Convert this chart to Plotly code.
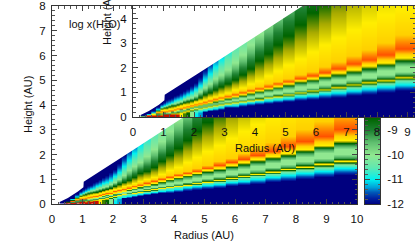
import plotly.graph_objects as go

# column edges in radius (AU)
radius_edges = [0.25,0.45,0.6,0.75,0.9,1.0,1.08,1.16,1.25,1.34,1.43,1.53,1.64,1.75,1.87,2.0,2.14,2.29,2.45,2.62,2.8,3.0,3.24,3.48,3.74,4.0,4.3,4.6,4.92,5.3,5.7,6.1,6.5,7.0,7.5,8.0,8.6,9.25,10.0]
# midplane log abundance per column
floor_vals = [-6.8,-6.3,-6.3,-6.3,-6.3,-6.3,-6.3,-6.3,-6.3,-6.3,-6.3,-7.5,-8.3,-8.5,-10,-11,-11.3]+[-12]*21
# peak log abundance per column
peak_vals = [-6.85]*21+[-6.8]*8+[-6.75]*9
# height/radius (percent) of each abundance contour, per column
c_a = [4,4.5,5,5,5,5,5,5,5,5,5,5,5,5.5,5.5,6,8.5,9.5,10,10.5,11,12,12,12,12,12,12,12,12,12,12,12,12,12,12,12,12,12]
c_b = [4.5,5,5.5,5.5,5.5,5.5,5.5,5.5,5.5,5.5,5.5,5.5,5.5,6,6,6.5,11,12,12.5,13,13.5,14.5,14.5,15,15,15,15,15,15,15,15,15,15,15,15,15,15,15]
c_c = [5,5.5,6,6,6,6,6,6,6.5,6.5,7,8,9,10,11,12,14,15,15.5,15.5,16,16,16,16.5,16.5,16.5,16.5,16.5,16.5,16.5,16.5,16.5,16.5,16.5,16.5,16.5,16.5,16.5]
c_d = [6,7,8,8,8,8,8,8,8,8,8,12,13,14,15,16,16,16.5,16.5,17,17,17.5,17.5,17.5,17.5,17.5,17.5,17.5,17.5,18,18,18,18,18,18,18,18,18]
c_e = [7,8,9.5,12,13,13,13,13,13.5,14,14.5,15,15.5,16,16.5,17,17.5,17.5,18,18,18.5,18.8,18.8,18.8,18.8,18.8,19,19,19,19.2,19.2,19.3,19.3,19.4,19.4,19.4,19.4,19.4]
c_f = [7.5,9,10.5,13,15,14,14,14,14.5,15,15.5,16,16.5,16.5,17,17.5,18,18.5,19,19.2,19.5,19.8,20,20,20,20.2,20.2,20.4,20.4,20.6,20.6,20.7,20.8,20.9,20.9,20.9,20.9,21]
c_g = [7.8,9.5,11,14,15.5,15,15,15,15.5,16,16.5,17,17.5,17.5,18,18.5,19.2,19.8,20.4,20.7,21,21.2,21.4,21.6,21.8,21.9,22,22,22.2,22.4,22.5,22.6,22.7,22.8,22.8,22.8,22.9,23]
c_h = [8,10,12,15,17,16,16,16,16.5,17,17.5,18,18.5,19,19.5,20,20.5,21,21.5,22,22.5,23,23.3,23.6,23.9,24.1,24.3,24.4,24.5,24.6,24.6,24.6,24.6,24.6,24.6,24.6,24.7,24.8]
c_i = [8.5,11,14,17,19,18,18,18,18.5,19,19.5,20,20.5,21,21.5,22,22.5,23,23.5,24,24.5,25,25.3,25.6,25.9,26.1,26.3,26.4,26.5,26.6,26.6,26.7,26.7,26.8,26.8,26.8,26.9,27]
c_j = [9,12,16,20,22,21,21,21,21.5,22,22.5,23,23.5,24,24,24.5,25,25.5,26,26.5,27,27.3,27.5,27.7,27.9,28,28.2,28.4,28.5,28.6,28.7,29,29.4,29.8,30.2,30.6,31,31.4]
c_j2 = [9.2,13,18,23,26,23,23,23,23.5,24,24.5,25,25.5,26,26,26.5,27,27.5,28,28.5,29,29.2,29.5,29.8,30,30.2,30.4,30.6,31,31.3,31.6,32.5,33.5,34.5,35.5,36.5,37.5,38.5]
c_k = [9.5,14,20,27,32,28,28,28,28,28.5,28.5,29,29,29,29,29.5,30,30,31,31,32,32.5,33,33.5,35,36,38,40,42,43,45,47,48,49,49.5,50,50,51]
c_l = [10,15,22,30,36,36,36,36,35,35,34,34,34,34,34,35,36,38,39,41,43,43,45,48,51,55,58,62,65,68,72,74,78,82,88,100,110,120]
c_m = [10.5,17,24,33,40,42,42,42,41,41,41,41,41,41,41,43,46,50,54,57,59,62,66,70,76,82,88,93,98,104,110,120,130,140,150,160,170,180]
c_n = [11,20,28,38,45,46,46,46,47,47,48,48,49,50,51,54,58,64,70,76,82,90,100,110,120,130,140,150,160,170,180,190,200,210,220,230,240,250]
c_o = [12,25,38,50,58,62,62,62,62,63,63,64,64,65,66,68,74,84,92,98,104,110,120,130,140,150,160,170,180,190,200,210,220,230,240,250,260,270]
c_top = 400
# log abundance on the contours above
lower_levels = [-12,-11,-10.4,-7.5]
upper_levels = [-9.2,-10,-10,-9.2,-7.5]
top_levels = [-7.2,-7.5,-8.5,-10,-11,-12,-12]
# disk surface
wedge_r = [0,0.2,0.52,0.85,1.03,1.04,2.66,5.87,10.5]
wedge_h = [0,0.05,0.24,0.5,0.68,0.9,2.18,4.76,8.55]
# colour bar
cb_levels = [-12,-11.75,-11.5,-11.3,-11,-10.5,-10,-9.5,-9,-8.5,-8.4]
cb_ticks = [-12,-11,-10,-9]
cb_text = ["-12","-11","-10","-9"]
x_ticks = [0,1,2,3,4,5,6,7,8,9,10]
colors = [[0,"#00007f"],[0.0417,"#0020a0"],[0.0833,"#0058b8"],[0.1167,"#00a0d8"],[0.1667,"#00f0f0"],[0.25,"#60e8b0"],[0.3333,"#90e890"],[0.4167,"#5fbf6f"],[0.5,"#1e8232"],[0.5833,"#006400"],[0.6667,"#a8aa00"],[0.75,"#ffee00"],[0.8,"#ffd000"],[0.85,"#ff7800"],[0.8833,"#ff4600"],[0.9333,"#dc1400"],[1,"#800000"]]
W, H = 415, 242

def dom_x(a, b): return [a/W, b/W]
def dom_y(top, bottom): return [(H-bottom)/H, (H-top)/H]

fig = go.Figure()

def add_columns(xa, ya):
    for i in range(len(radius_edges)-1):
        e0, e1 = radius_edges[i], radius_edges[i+1]
        r = (e0+e1)/2
        fr = [0,c_a[i],c_b[i],c_c[i],c_d[i],c_e[i],c_f[i],c_g[i],c_h[i],c_i[i],c_j[i],c_j2[i],c_k[i],c_l[i],c_m[i],c_n[i],c_o[i],c_top]
        y = [r*f/100 for f in fr]
        fl = floor_vals[i]
        vals = [fl]+[max(v, fl) for v in lower_levels]+upper_levels+[peak_vals[i]]+top_levels
        fig.add_trace(go.Heatmap(x=[e0,r,e1+0.05], y=y, z=[[v,v] for v in vals], zmin=-12, zmax=-6, colorscale=colors,
                                 showscale=False, zsmooth="best", hoverinfo="skip", xaxis=xa, yaxis=ya))
    fig.add_trace(go.Scatter(x=wedge_r+[0], y=wedge_h+[wedge_h[-1]], mode="lines", fill="toself", fillcolor="white",
                             line=dict(width=0, color="white"), hoverinfo="skip", xaxis=xa, yaxis=ya))

add_columns("x", "y")
fig.add_trace(go.Heatmap(x=[0,1], y=cb_levels, z=[[v,v] for v in cb_levels], zmin=-12, zmax=-6, colorscale=colors,
                         showscale=False, zsmooth="best", hoverinfo="skip", xaxis="x2", yaxis="y2"))
add_columns("x3", "y3")

font = dict(family="Liberation Sans, Arial, sans-serif", size=11.5, color="#111")
title_font = dict(family="Liberation Sans, Arial, sans-serif", size=11, color="#111")
ax = dict(showgrid=False, zeroline=False, showline=True, linecolor="#333", linewidth=1, mirror="ticks",
          ticks="inside", ticklen=5, tickwidth=1, tickcolor="#444", tickfont=font,
          minor=dict(ticks="inside", ticklen=2.5, tickwidth=1, tickcolor="#555", dtick=0.2))
fig.update_layout(
    width=W, height=H, margin=dict(l=0, r=0, t=0, b=0, autoexpand=False), showlegend=False,
    plot_bgcolor="white", paper_bgcolor="white",
    xaxis=dict(ax, domain=dom_x(52,357), range=[0,10], tickvals=x_ticks, ticklabelstandoff=4),
    yaxis=dict(ax, domain=dom_y(6,204), range=[0,8], dtick=1, ticklabelstandoff=3),
    xaxis2=dict(ax, domain=dom_x(365,380), range=[0,1], showticklabels=False, ticks="", minor=dict(ticks="")),
    yaxis2=dict(ax, domain=dom_y(117,204), range=[-12,-8.47], side="right", tickvals=cb_ticks, ticktext=cb_text, ticklabelstandoff=4),
    xaxis3=dict(ax, domain=dom_x(133,415), range=[0,9.246], tickvals=x_ticks, anchor="y3", ticklabelstandoff=4),
    yaxis3=dict(ax, domain=dom_y(5.5,117), range=[0,4.53], dtick=1, anchor="x3", ticklabelstandoff=3),
)
fig.layout.xaxis2.anchor = "y2"
fig.layout.yaxis2.anchor = "x2"

def label(text, x, y, angle=0):
    fig.add_annotation(text=text, x=x/W, y=(H-y)/H, xref="paper", yref="paper", xanchor="center", yanchor="middle",
                       showarrow=False, textangle=angle, font=title_font)

label("Radius (AU)", 204, 235)
label("Height (AU)", 28, 105, -90)
label("Radius (AU)", 265, 148)
label("Height (AU)", 107, 17, -90)
label("log x(H<sub>2</sub>O)", 94, 25)

fig.write_html("out.html", config=dict(displayModeBar=False), post_script="document.body.style.margin='0';")
